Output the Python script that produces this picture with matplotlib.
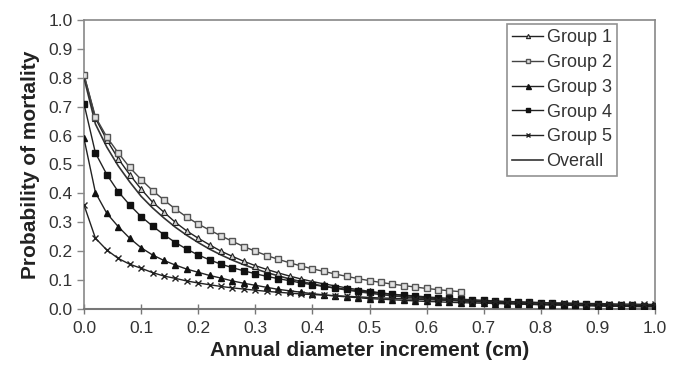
import matplotlib
matplotlib.use("Agg")
import matplotlib.pyplot as plt
from matplotlib.ticker import FormatStrFormatter

plt.rcParams['font.family'] = ['Liberation Sans', 'DejaVu Sans']

x_all = [0.00, 0.02, 0.04, 0.06, 0.08, 0.10, 0.12, 0.14, 0.16, 0.18,
         0.20, 0.22, 0.24, 0.26, 0.28, 0.30, 0.32, 0.34, 0.36, 0.38,
         0.40, 0.42, 0.44, 0.46, 0.48, 0.50, 0.52, 0.54, 0.56, 0.58,
         0.60, 0.62, 0.64, 0.66, 0.68, 0.70, 0.72, 0.74, 0.76, 0.78,
         0.80, 0.82, 0.84, 0.86, 0.88, 0.90, 0.92, 0.94, 0.96, 0.98, 1.00]

group1 = [0.81, 0.66, 0.585, 0.52, 0.465, 0.415, 0.37, 0.335, 0.30, 0.27,
          0.245, 0.222, 0.20, 0.182, 0.165, 0.15, 0.137, 0.125, 0.114, 0.104,
          0.095, 0.087, 0.08, 0.073, 0.067, 0.061, 0.056, 0.051, 0.047, 0.043,
          0.039, 0.036, 0.033, 0.030, 0.028, 0.026, 0.024, 0.022, 0.020, 0.018,
          0.017, 0.016, 0.015, 0.014, 0.013, 0.012, 0.011, 0.010, 0.010, 0.009, 0.009]

group2 = [0.81, 0.665, 0.595, 0.54, 0.49, 0.448, 0.41, 0.377, 0.346, 0.318,
          0.294, 0.273, 0.253, 0.234, 0.216, 0.20, 0.185, 0.172, 0.16, 0.149,
          0.139, 0.13, 0.121, 0.113, 0.105, 0.098, 0.092, 0.086, 0.081, 0.076,
          0.071, 0.067, 0.063, 0.06]

group3 = [0.59, 0.403, 0.331, 0.285, 0.245, 0.212, 0.187, 0.168, 0.152, 0.138,
          0.127, 0.116, 0.107, 0.097, 0.089, 0.082, 0.075, 0.068, 0.063, 0.058,
          0.053, 0.049, 0.045, 0.042, 0.039, 0.036, 0.034, 0.032, 0.030, 0.028,
          0.026, 0.025, 0.023, 0.022, 0.021, 0.020, 0.019, 0.018, 0.017, 0.016,
          0.015, 0.014, 0.014, 0.013, 0.012, 0.012, 0.011, 0.011, 0.010, 0.010, 0.009]

group4 = [0.71, 0.54, 0.465, 0.406, 0.36, 0.32, 0.287, 0.257, 0.23, 0.207,
          0.187, 0.17, 0.155, 0.143, 0.132, 0.122, 0.113, 0.105, 0.098, 0.09,
          0.084, 0.078, 0.073, 0.068, 0.063, 0.059, 0.055, 0.051, 0.048, 0.045,
          0.042, 0.039, 0.037, 0.034, 0.032, 0.030, 0.028, 0.026, 0.025, 0.023,
          0.022, 0.020, 0.019, 0.018, 0.017, 0.016, 0.015, 0.014, 0.013, 0.012, 0.012]

group5 = [0.36, 0.245, 0.204, 0.175, 0.155, 0.141, 0.126, 0.114, 0.106, 0.097,
          0.09, 0.084, 0.078, 0.073, 0.069, 0.065, 0.061, 0.058, 0.055, 0.052,
          0.05, 0.048, 0.046, 0.044, 0.042, 0.040, 0.038, 0.037, 0.035, 0.034,
          0.032, 0.031, 0.030, 0.029, 0.028, 0.027, 0.026, 0.025, 0.024, 0.023,
          0.022, 0.021, 0.021, 0.020, 0.019, 0.019, 0.018, 0.017, 0.017, 0.016, 0.016]

overall = [0.80, 0.64, 0.56, 0.495, 0.44, 0.39, 0.35, 0.315, 0.283, 0.255,
           0.23, 0.207, 0.187, 0.169, 0.153, 0.139, 0.126, 0.115, 0.104, 0.095,
           0.087, 0.079, 0.072, 0.066, 0.060, 0.055, 0.050, 0.046, 0.042, 0.039,
           0.036, 0.033, 0.030, 0.028, 0.026, 0.024, 0.022, 0.020, 0.019, 0.017,
           0.016, 0.015, 0.014, 0.013, 0.012, 0.011, 0.010, 0.010, 0.009, 0.008, 0.008]

x_ticks = [0.0, 0.1, 0.2, 0.3, 0.4, 0.5, 0.6, 0.7, 0.8, 0.9, 1.0]
y_ticks = [0.0, 0.1, 0.2, 0.3, 0.4, 0.5, 0.6, 0.7, 0.8, 0.9, 1.0]

fig = plt.figure(figsize=(6.82, 3.73), dpi=100)
ax = fig.add_axes([84 / 682, 1 - 309 / 373, (655 - 84) / 682, (309 - 20) / 373])

line_c = '#222222'
lw = 1.0
ax.plot(x_all, group1, color=line_c, lw=lw, marker='^', ms=3.8,
        mfc='#cccccc', mec='#222222', mew=0.8, label='Group 1', zorder=4)
ax.plot(x_all[:len(group2)], group2, color='#444444', lw=lw, marker='s', ms=4.2,
        mfc='#e0e0e0', mec='#555555', mew=1.0, label='Group 2', zorder=5)
ax.plot(x_all, group3, color=line_c, lw=lw, marker='^', ms=4.5,
        mfc='#111111', mec='#111111', label='Group 3', zorder=4)
ax.plot(x_all, group4, color=line_c, lw=lw, marker='s', ms=4.3,
        mfc='#111111', mec='#111111', label='Group 4', zorder=4)
ax.plot(x_all, group5, color=line_c, lw=lw, marker='x', ms=4.2,
        mec='#222222', mew=1.0, label='Group 5', zorder=4)
ax.plot(x_all, overall, color='#333333', lw=1.2, label='Overall', zorder=3)

ax.set_xlim(0, 1.0)
ax.set_ylim(0, 1.0)
ax.set_xticks(x_ticks)
ax.set_yticks(y_ticks)
ax.xaxis.set_major_formatter(FormatStrFormatter('%.1f'))
ax.yaxis.set_major_formatter(FormatStrFormatter('%.1f'))

for s in ax.spines.values():
    s.set_color('#888888')
    s.set_linewidth(1.2)
ax.spines['bottom'].set_color('#777777')
ax.spines['bottom'].set_linewidth(1.5)

ax.tick_params(axis='x', direction='inout', length=7, width=1, color='#777777',
               labelsize=12.5, labelcolor='#333333', pad=5)
ax.tick_params(axis='y', direction='out', length=5, width=1, color='#888888',
               labelsize=12.5, labelcolor='#333333', pad=3)

ax.set_xlabel('Annual diameter increment (cm)', fontsize=15, fontweight='bold',
              color='#222222', labelpad=4)
ax.set_ylabel('Probability of mortality', fontsize=15, fontweight='bold',
              color='#222222', labelpad=6)

leg = ax.legend(loc='upper right', bbox_to_anchor=(617 / 682, 1 - 24 / 373),
                bbox_transform=fig.transFigure, fontsize=13, frameon=True,
                fancybox=False, handlelength=1.7, handletextpad=0.2,
                labelspacing=0.43, borderpad=0.3, borderaxespad=0,
                labelcolor='#333333', markerscale=0.8)
leg.get_frame().set_edgecolor('#777777')
leg.get_frame().set_linewidth(1.2)

fig.savefig('out.png', dpi=100)
